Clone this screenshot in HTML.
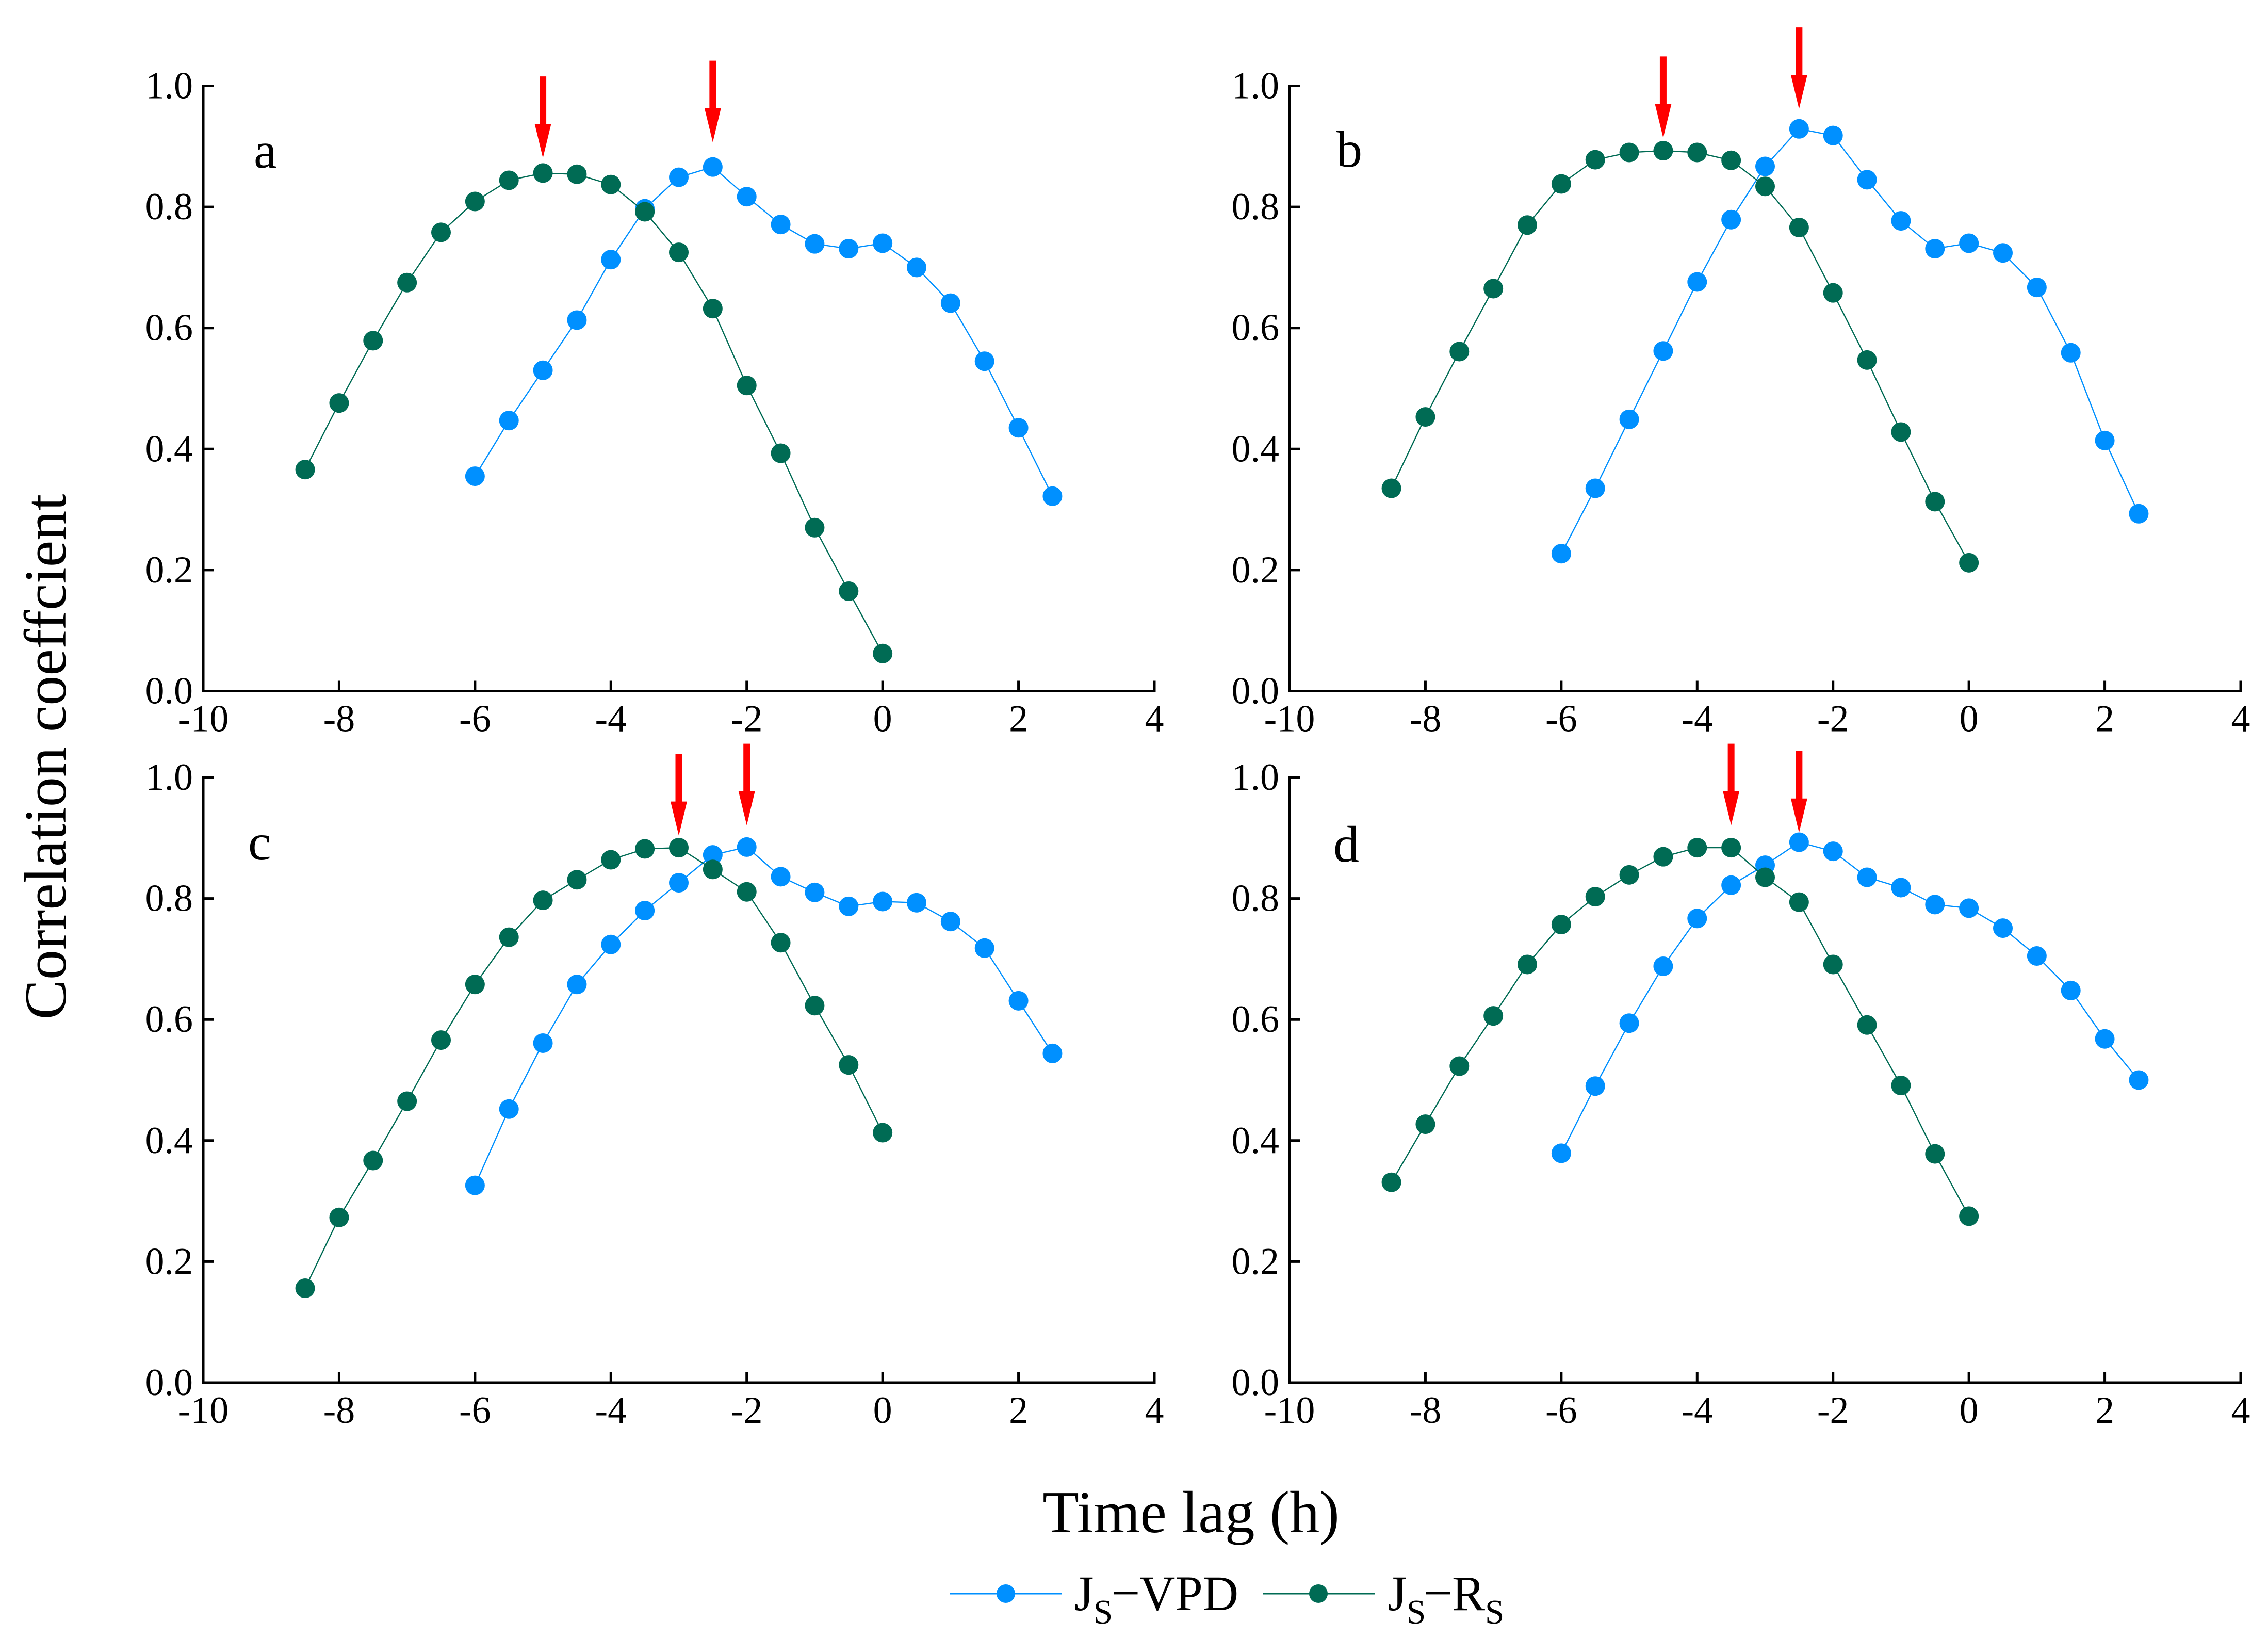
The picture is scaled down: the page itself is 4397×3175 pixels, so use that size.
<!DOCTYPE html>
<html>
<head>
<meta charset="utf-8">
<title>Correlation coefficient vs time lag</title>
<style>
html,body{margin:0;padding:0;background:#fff;width:4397px;height:3175px;overflow:hidden}
svg{display:block;font-family:"Liberation Serif",serif;fill:#000}
</style>
</head>
<body>
<svg id="chart" xmlns="http://www.w3.org/2000/svg" width="4397" height="3175" viewBox="0 0 4397 3175">
<rect width="4397" height="3175" fill="#fff"/>
<text transform="translate(127,1467) rotate(-90)" text-anchor="middle" font-size="116" style="font-variant-ligatures:none">Correlation coeffcient</text>
<text x="2309" y="2970" text-anchor="middle" font-size="116">Time lag (h)</text>
<g>
<g>
<line x1="1841" y1="3089" x2="2059" y2="3089" stroke="#0090ff" stroke-width="3"/>
<circle cx="1950" cy="3089" r="18" fill="#0090ff"/>
<text font-size="96"><tspan x="2083" y="3121">J</tspan><tspan x="2120" y="3147" font-size="67">S</tspan><tspan x="2154" y="3121" font-size="100">−</tspan><tspan x="2209" y="3121">VPD</tspan></text>
</g>
<g>
<line x1="2448" y1="3089" x2="2666" y2="3089" stroke="#006b54" stroke-width="3"/>
<circle cx="2556" cy="3089" r="18" fill="#006b54"/>
<text font-size="96"><tspan x="2690" y="3121">J</tspan><tspan x="2727" y="3147" font-size="67">S</tspan><tspan x="2760" y="3121" font-size="100">−</tspan><tspan x="2815" y="3121">R</tspan><tspan x="2879" y="3147" font-size="67">S</tspan></text>
</g>
</g>
</svg>
<script>
const xTicks = [-10, -8, -6, -4, -2, 0, 2, 4];
const yTicks = ['0.0', '0.2', '0.4', '0.6', '0.8', '1.0'];
const lagsVpd = [-6, -5.5, -5, -4.5, -4, -3.5, -3, -2.5, -2, -1.5, -1, -0.5, 0, 0.5, 1, 1.5, 2, 2.5];
const lagsRs = [-8.5, -8, -7.5, -7, -6.5, -6, -5.5, -5, -4.5, -4, -3.5, -3, -2.5, -2, -1.5, -1, -0.5, 0];

const vpdA = [.355, .447, .530, .613, .713, .797, .849, .866, .817, .771, .739, .731, .740, .700, .641, .545, .435, .322];
const rsA = [.366, .476, .579, .675, .758, .809, .844, .856, .854, .837, .792, .725, .632, .505, .393, .270, .165, .062];
const arrowLagsA = [-5, -2.5];
const arrowTipsA = [.881, .907];

const vpdB = [.227, .335, .449, .562, .676, .779, .867, .929, .918, .845, .777, .731, .740, .724, .667, .559, .414, .293];
const rsB = [.335, .453, .561, .665, .770, .838, .878, .890, .893, .890, .877, .834, .766, .658, .547, .428, .313, .212];
const arrowLagsB = [-4.5, -2.5];
const arrowTipsB = [.914, .962];

const vpdC = [.326, .452, .561, .658, .724, .780, .826, .872, .885, .836, .810, .787, .795, .793, .762, .718, .631, .544];
const rsC = [.156, .273, .367, .465, .566, .658, .736, .797, .831, .864, .882, .884, .848, .811, .727, .623, .525, .413];
const arrowLagsC = [-3, -2];
const arrowTipsC = [.904, .921];

const vpdD = [.379, .490, .594, .688, .767, .822, .855, .893, .878, .835, .818, .790, .784, .751, .705, .648, .568, .500];
const rsD = [.331, .427, .523, .606, .691, .757, .803, .839, .869, .884, .884, .835, .794, .691, .591, .491, .378, .275];
const arrowLagsD = [-3.5, -2.5];
const arrowTipsD = [.921, .909];

const SVG_NS = 'http://www.w3.org/2000/svg';
const svg = document.getElementById('chart');

function make(tag, attrs, parent) {
  const el = document.createElementNS(SVG_NS, tag);
  for (const k in attrs) el.setAttribute(k, attrs[k]);
  parent.appendChild(el);
  return el;
}

function drawSeries(parent, name, lags, values, color, sx, sy) {
  const pts = lags.map((l, i) => sx(l) + ',' + sy(values[i])).join(' ');
  const line = make('polyline', {points: pts, fill: 'none', stroke: color, 'stroke-width': 2.4}, parent);
  
  
  lags.forEach((l, i) => {
    const c = make('circle', {cx: sx(l), cy: sy(values[i]), r: 19, fill: color}, parent);
    
    
  });
}

function drawPanel(id, x0, y0, labelX, labelY, vpd, rs, arrowLags, arrowTips) {
  const W = 1844, H = 1173;
  const sx = v => x0 + (v + 10) / 14 * W;
  const sy = v => y0 - v * H;
  const g = make('g', {}, svg);
  
  

  const axes = make('path', {d: 'M' + x0 + ' ' + sy(1) + 'V' + y0 + 'H' + (x0 + W), fill: 'none', stroke: '#000', 'stroke-width': 5, 'stroke-linecap': 'square'}, g);
  
  

  xTicks.forEach(t => {
    if (t !== xTicks[0]) {
      const tick = make('line', {x1: sx(t), x2: sx(t), y1: y0, y2: y0 - 20, stroke: '#000', 'stroke-width': 5}, g);
      
      
    }
    const lab = make('text', {x: sx(t), y: y0 + 78, 'text-anchor': 'middle', 'font-size': 74}, g);
    lab.textContent = String(t);
    
    
  });

  yTicks.forEach(t => {
    const v = parseFloat(t);
    if (v !== 0) {
      const tick = make('line', {x1: x0, x2: x0 + 20, y1: sy(v), y2: sy(v), stroke: '#000', 'stroke-width': 5}, g);
      
      
    }
    const lab = make('text', {x: x0 - 20, y: sy(v) + 24, 'text-anchor': 'end', 'font-size': 74}, g);
    lab.textContent = t;
    
    
  });

  drawSeries(g, 'js-vpd-' + id, lagsVpd, vpd, '#0090ff', sx, sy);
  drawSeries(g, 'js-rs-' + id, lagsRs, rs, '#006b54', sx, sy);

  arrowLags.forEach((l, i) => {
    const x = sx(l), tip = sy(arrowTips[i]);
    const d = 'M' + (x - 6.5) + ' ' + (tip - 158) + 'H' + (x + 6.5) + 'V' + (tip - 66) + 'H' + (x + 16) +
      'L' + x + ' ' + tip + 'L' + (x - 16) + ' ' + (tip - 66) + 'H' + (x - 6.5) + 'Z';
    const a = make('path', {d: d, fill: '#ff0000'}, g);
    
    
  });

  const pl = make('text', {x: labelX, y: labelY, 'font-size': 100}, g);
  pl.textContent = id;
  
  
}

drawPanel('a', 394, 1339.5, 492, 325, vpdA, rsA, arrowLagsA, arrowTipsA);
drawPanel('b', 2500, 1339.5, 2591, 323, vpdB, rsB, arrowLagsB, arrowTipsB);
drawPanel('c', 394, 2680, 481, 1666, vpdC, rsC, arrowLagsC, arrowTipsC);
drawPanel('d', 2500, 2680, 2585, 1670, vpdD, rsD, arrowLagsD, arrowTipsD);
</script>
</body>
</html>
